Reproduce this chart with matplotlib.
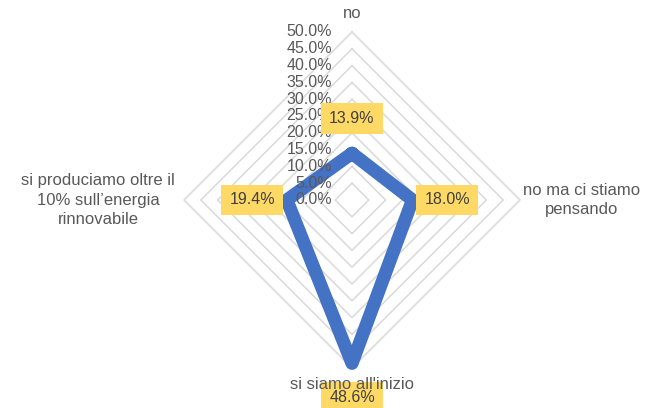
import numpy as np
import matplotlib
matplotlib.use("Agg")
import matplotlib.pyplot as plt

# radar data (percent)
categories = ["no", "no ma ci stiamo\npensando", "si siamo all'inizio",
              "si produciamo oltre il\n10% sull\u2019energia\nrinnovabile"]
values = [13.9, 18.0, 48.6, 19.4]
ticks = [0, 5, 10, 15, 20, 25, 30, 35, 40, 45, 50]

plt.rcParams['font.family'] = ['Liberation Sans', 'DejaVu Sans']
text_col = '#595959'

# angles: top, right, bottom, left (clockwise from top)
angles = np.pi / 2 - np.arange(len(categories)) * 2 * np.pi / len(categories)

fig = plt.figure(figsize=(6.47, 4.08), dpi=100)
ax = fig.add_axes([0, 0, 1, 1])
scale = 168 / 50.0  # px per percent
ax.set_xlim(-352 / scale, (647 - 352) / scale)
ax.set_ylim(-208 / scale, 200 / scale)
ax.axis('off')

# diamond grid
for r in ticks[1:]:
    gx = list(r * np.cos(angles)) + [r * np.cos(angles[0])]
    gy = list(r * np.sin(angles)) + [r * np.sin(angles[0])]
    ax.plot(gx, gy, color='#D9D9D9', lw=1.1, zorder=1)

# data polygon
px = [v * np.cos(a) for v, a in zip(values, angles)]
py = [v * np.sin(a) for v, a in zip(values, angles)]
ax.plot(px + [px[0]], py + [py[0]], color='#4472C4', lw=9.5,
        solid_joinstyle='round', solid_capstyle='round', zorder=2)

# tick labels along top axis (drawn over the line)
for t in ticks:
    ax.text(-6, t, "%.1f%%" % t, ha='right', va='center', fontsize=11.5,
            color=text_col, zorder=3)

# data labels
for v, a in zip(values, angles):
    r = v + 10.3
    ax.text(r * np.cos(a), r * np.sin(a), "%.1f%%" % v, ha='center',
            va='center', fontsize=11.5, color='#404040', zorder=4,
            bbox=dict(boxstyle='square,pad=0.5', fc='#FFD966', ec='none'))

# category labels
label_r = [55.4, 68.3, 55.0, 75.6]
for c, a, r in zip(categories, angles, label_r):
    ax.text(r * np.cos(a), r * np.sin(a), c, ha='center', va='center',
            fontsize=12, color=text_col, linespacing=1.35, zorder=5)

fig.savefig('out.png', dpi=100)
